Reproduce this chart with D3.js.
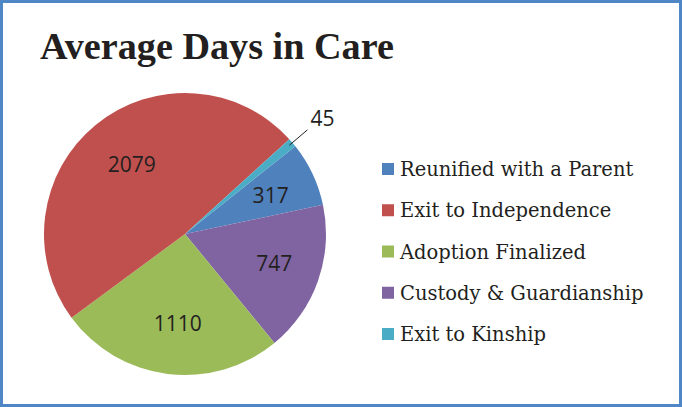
<!DOCTYPE html>
<html>
<head>
<meta charset="utf-8">
<script src="https://cdn.jsdelivr.net/npm/d3@7"></script>
<style>
  body { margin: 0; background: #fff; }
  svg { display: block; }
</style>
</head>
<body>
<div class="graph"></div>
<script>
  const categories = ['Reunified with a Parent', 'Exit to Independence', 'Adoption Finalized', 'Custody & Guardianship', 'Exit to Kinship'];
  const values = [317, 2079, 1110, 747, 45];
  const colors = ['#4f81bd', '#c0504d', '#9bbb59', '#8064a2', '#4bacc6'];
  // order the slices are laid round the pie, clockwise from the blue one
  const sliceOrder = [0, 3, 2, 1, 4];

  const width = 682;
  const height = 407;
  const radius = 141;
  const cx = 185, cy = 234;
  const start = 51.5 * Math.PI / 180;

  const data = categories.map((c, i) => ({ name: c, value: values[i], color: colors[i] }));

  const svg = d3.select('.graph')
    .append('svg')
    .attr('width', width)
    .attr('height', height);

  svg.append('rect')
    .attr('x', 1.5)
    .attr('y', 1.5)
    .attr('width', width - 3)
    .attr('height', height - 3)
    .attr('fill', '#fff')
    .attr('stroke', '#4f86c6')
    .attr('stroke-width', 3);

  svg.append('text')
    .attr('x', 40)
    .attr('y', 59)
    .attr('font-family', 'Liberation Serif, serif')
    .attr('font-weight', 'bold')
    .attr('font-size', 38.2)
    .attr('fill', '#231f20')
    .text('Average Days in Care');

  const pie = d3.pie()
    .sort(null)
    .value(d => d.value)
    .startAngle(start)
    .endAngle(start + 2 * Math.PI);

  const arcs = pie(sliceOrder.map(i => data[i]));

  const arc = d3.arc().innerRadius(0).outerRadius(radius);
  const labelArc = d3.arc().innerRadius(radius * 0.64).outerRadius(radius * 0.64);

  const g = svg.append('g')
    .attr('transform', `translate(${cx},${cy})`);

  g.selectAll('.slice')
    .data(arcs)
    .enter()
    .append('path')
    .attr('class', 'slice')
    .attr('d', arc)
    .attr('fill', d => d.data.color);

  const inside = arcs.filter(d => d.data.value > 100);
  const outside = arcs.filter(d => d.data.value <= 100);

  g.selectAll('.lbl')
    .data(inside)
    .enter()
    .append('text')
    .attr('class', 'lbl')
    .attr('transform', d => `translate(${labelArc.centroid(d)})`)
    .attr('text-anchor', 'middle')
    .attr('dx', 4)
    .attr('dy', '0.36em')
    .attr('font-family', 'Open Sans, sans-serif')
    .attr('font-size', 21)
    .attr('fill', '#231f20')
    .text(d => d.data.value);

  const mid = d => (d.startAngle + d.endAngle) / 2;
  const polar = (r, a) => [r * Math.sin(a), -r * Math.cos(a)];

  g.selectAll('.leader')
    .data(outside)
    .enter()
    .append('line')
    .attr('class', 'leader')
    .attr('x1', d => polar(radius - 4, mid(d))[0])
    .attr('y1', d => polar(radius - 4, mid(d))[1])
    .attr('x2', d => polar(radius * 1.14, mid(d))[0])
    .attr('y2', d => polar(radius * 1.14, mid(d))[1])
    .attr('stroke', '#231f20')
    .attr('stroke-width', 1);

  g.selectAll('.outlbl')
    .data(outside)
    .enter()
    .append('text')
    .attr('class', 'outlbl')
    .attr('x', d => polar(radius * 1.14, mid(d))[0] + 3)
    .attr('y', d => polar(radius * 1.14, mid(d))[1] - 4)
    .attr('font-family', 'Open Sans, sans-serif')
    .attr('font-size', 21)
    .attr('fill', '#231f20')
    .text(d => d.data.value);

  const legendY = d3.scalePoint()
    .domain(categories)
    .range([169, 334]);

  const legend = svg.selectAll('.legend')
    .data(data)
    .enter()
    .append('g')
    .attr('class', 'legend')
    .attr('transform', d => `translate(382,${legendY(d.name)})`);

  legend.append('rect')
    .attr('x', 0)
    .attr('y', -6)
    .attr('width', 12)
    .attr('height', 12)
    .attr('fill', d => d.color);

  legend.append('text')
    .attr('x', 18)
    .attr('y', 7)
    .attr('font-family', 'DejaVu Serif, serif')
    .attr('font-size', 19.5)
    .attr('fill', '#231f20')
    .text(d => d.name);
</script>
</body>
</html>
